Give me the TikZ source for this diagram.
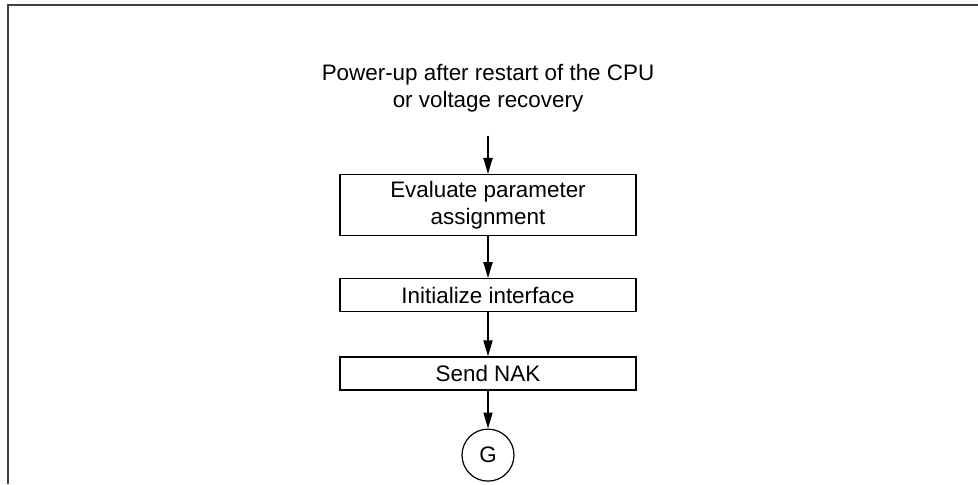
\documentclass[tikz,border=0pt]{standalone}
\usepackage{fontspec}
\setmainfont{Liberation Sans}
\usetikzlibrary{shapes.geometric, arrows.meta, positioning}

\begin{document}
\begin{tikzpicture}[
	  x=1pt, y=1pt,
	  node distance=21pt,
	  title/.style={align=center, inner sep=0pt, font=\fontsize{11.2pt}{13.4pt}\selectfont},
	  process/.style={rectangle, minimum width=148pt, minimum height=16.5pt, inner sep=0pt, align=center, draw=black, line width=0.6pt, font=\fontsize{11.2pt}{13.4pt}\selectfont},
	  connector/.style={circle, minimum size=26pt, inner sep=0pt, draw=black, line width=0.6pt, font=\fontsize{11.2pt}{13.4pt}\selectfont},
	  arrow/.style={line width=0.6pt, -{Triangle[length=8pt, width=4.6pt]}}
	]

	\useasboundingbox (0,0) rectangle (489,-242);
	\draw [black!75, line width=1pt] (4,-242) |- (489,-2.5);

	\node (eval) [process, minimum height=30.5pt] at (244,-102.5) {Evaluate parameter\\assignment};
	\node (start) [title, above=30.6pt of eval] {Power-up after restart of the CPU\\or voltage recovery};
	\node (init) [process, below=of eval] {Initialize interface};
	\node (nak) [process, below=22pt of init] {Send NAK};
	\node (g) [connector, below=19pt of nak] {G};

	\draw [arrow, shorten <=11.4pt] (start) -- (eval);
	\draw [arrow] (eval) -- (init);
	\draw [arrow] (init) -- (nak);
	\draw [arrow] (nak) -- (g);

\end{tikzpicture}
\end{document}
